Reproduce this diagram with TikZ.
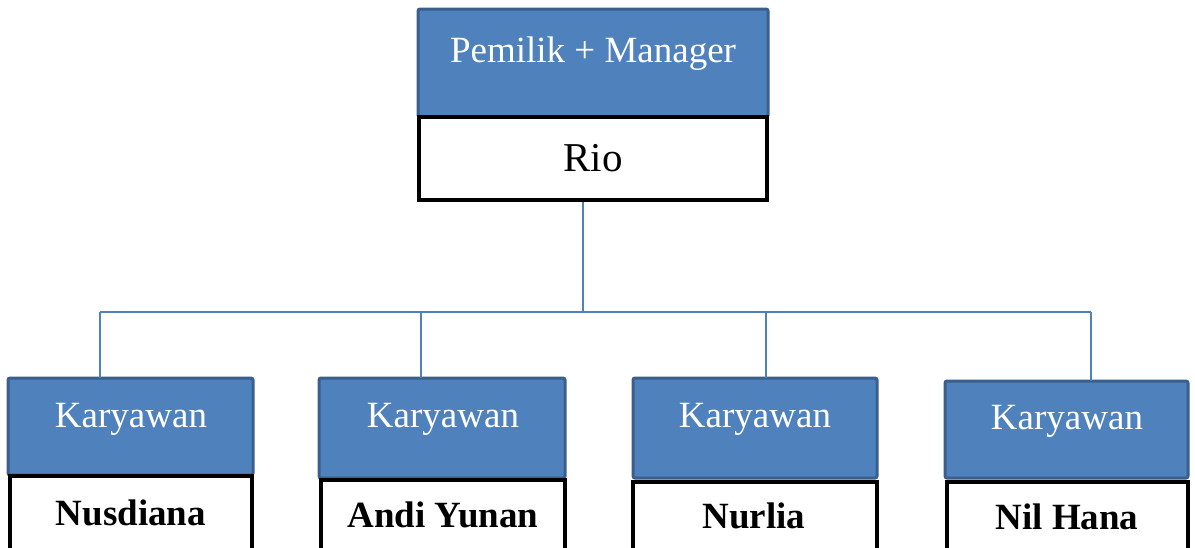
\documentclass[tikz,border=0pt]{standalone}
\usepackage{fontspec}
\setmainfont{Liberation Serif}
\definecolor{boxblue}{HTML}{4F81BD}
\definecolor{boxedge}{HTML}{3A5F8C}
\begin{document}
\begin{tikzpicture}[x=1pt,y=-1pt,
  bluebox/.style={draw=boxedge,fill=boxblue,line width=3pt,rounded corners=2pt,inner sep=0pt},
  namebox/.style={draw=black,fill=white,line width=4.5pt,inner sep=0pt},
  ttltext/.style={anchor=base,text=white,font=\fontsize{37}{40}\selectfont,inner sep=0pt},
  nmtext/.style={anchor=base,text=black,font=\fontsize{37}{40}\selectfont\bfseries,inner sep=0pt},
  conn/.style={draw=boxblue,line width=2pt}]
\useasboundingbox (0,0) rectangle (1195,547);
\clip (0,0) rectangle (1195,547);
% connectors
\coordinate (bus) at (583,312);
\coordinate (d1) at (100,312);
\coordinate (d2) at (421,312);
\coordinate (d3) at (766,312);
\coordinate (d4) at (1091,312);
% top
\path[bluebox] (418,9) rectangle (768,117);
\node[minimum width=350pt,minimum height=108pt,inner sep=0pt] (top) at (593,63) {};
\node[namebox,minimum width=348pt,minimum height=83pt] (rio) at (593,158.5) {};
\node[ttltext] (ttop) at (593,62) {Pemilik + Manager};
\node[anchor=base,inner sep=0pt,font=\fontsize{41}{44}\selectfont] (trio) at (593,171) {Rio};
\draw[conn] (rio.south -| bus) -- (bus);
\draw[conn] (d1) -- (d4);
% bottom boxes
\path[bluebox] (8,378) rectangle (253,475);
\node[minimum width=245pt,minimum height=97pt,inner sep=0pt] (k1) at (130.5,426.5) {};
\node[namebox,minimum width=242pt,minimum height=90pt] (n1) at (131,521) {};
\node[ttltext] (tk1) at (131,427) {Karyawan};
\node[nmtext] (tn1) at (131,525) {Nusdiana};

\path[bluebox] (319,378) rectangle (565,478);
\node[minimum width=246pt,minimum height=100pt,inner sep=0pt] (k2) at (442,428) {};
\node[namebox,minimum width=244pt,minimum height=90pt] (n2) at (443,525) {};
\node[ttltext] (tk2) at (443,427) {Karyawan};
\node[nmtext] (tn2) at (443,527) {Andi Yunan};

\path[bluebox] (633,378) rectangle (877,478);
\node[minimum width=244pt,minimum height=100pt,inner sep=0pt] (k3) at (755,428) {};
\node[namebox,minimum width=244pt,minimum height=90pt] (n3) at (755,527) {};
\node[ttltext] (tk3) at (755,427) {Karyawan};
\node[nmtext] (tn3) at (754,528) {Nurlia};

\path[bluebox] (945,381) rectangle (1188,478);
\node[minimum width=243pt,minimum height=97pt,inner sep=0pt] (k4) at (1066.5,429.5) {};
\node[namebox,minimum width=241pt,minimum height=90pt] (n4) at (1067.5,527) {};
\node[ttltext] (tk4) at (1067,429) {Karyawan};
\node[nmtext] (tn4) at (1067,529) {Nil Hana};

\draw[conn] (d1) -- (d1 |- k1.north);
\draw[conn] (d2) -- (d2 |- k2.north);
\draw[conn] (d3) -- (d3 |- k3.north);
\draw[conn] (d4) -- (d4 |- k4.north);
\end{tikzpicture}
\end{document}
